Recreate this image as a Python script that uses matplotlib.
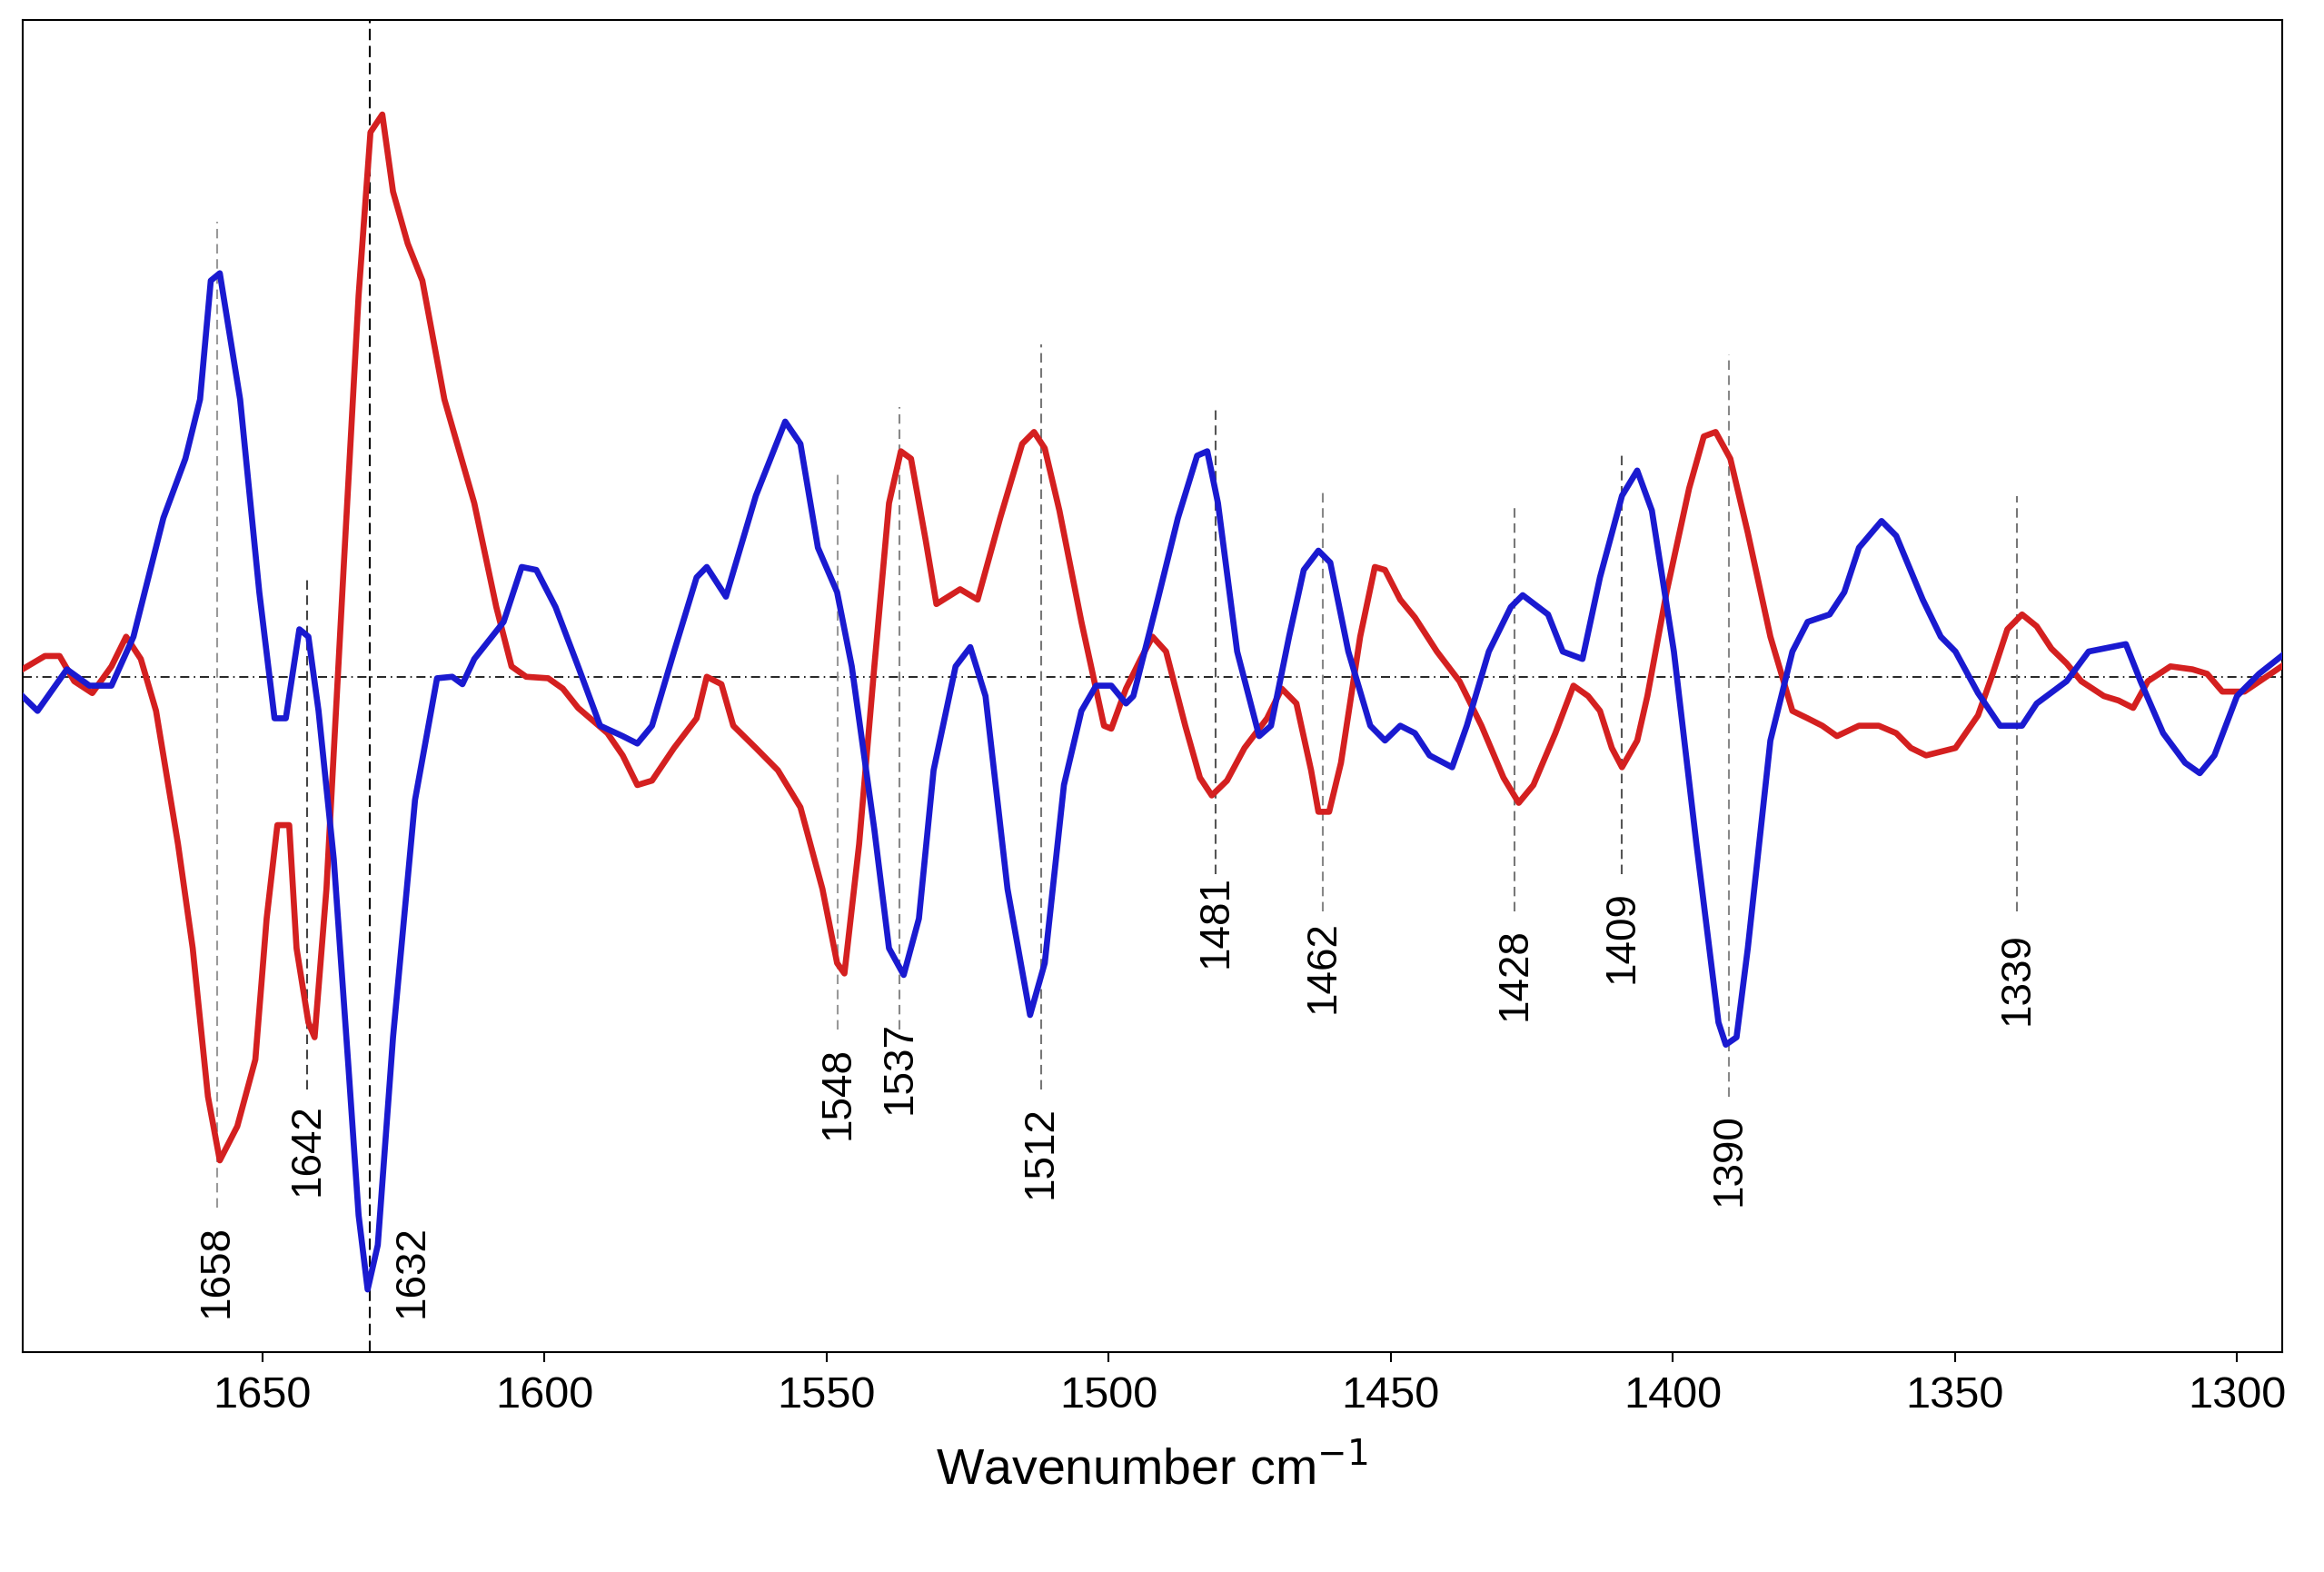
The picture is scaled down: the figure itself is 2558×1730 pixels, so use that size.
import matplotlib
matplotlib.use("Agg")
import matplotlib.pyplot as plt

plt.rcParams["font.family"] = "Liberation Sans"

blue_wn = [1692.5,1689.8,1684.6,1680.6,1676.7,1672.8,1667.5,1663.6,1661.0,1659.1,1657.5,1653.9,1650.5,1647.8,1645.8,1643.4,1641.8,1640.0,1637.3,1634.7,1632.9,1631.3,1629.5,1626.8,1622.9,1619.0,1616.3,1614.5,1612.4,1607.2,1604.0,1601.4,1598.0,1594.0,1590.1,1586.1,1583.5,1580.9,1577.0,1573.0,1571.2,1567.8,1562.5,1557.3,1554.6,1551.5,1548.1,1545.5,1541.5,1538.9,1536.3,1533.6,1531.0,1527.1,1524.5,1521.8,1517.9,1513.9,1511.3,1507.9,1504.8,1502.2,1499.5,1496.9,1495.6,1491.6,1487.7,1484.3,1482.5,1480.6,1477.2,1473.3,1471.2,1468.0,1465.4,1462.8,1460.7,1457.5,1453.6,1451.0,1448.3,1445.7,1443.1,1439.1,1436.5,1432.6,1428.7,1426.6,1422.1,1419.5,1416.0,1412.9,1409.0,1406.3,1403.7,1399.8,1395.8,1391.9,1390.6,1388.7,1386.7,1382.7,1378.8,1376.1,1372.2,1369.6,1367.0,1363.0,1360.4,1355.7,1352.5,1349.9,1345.9,1342.0,1338.1,1335.5,1330.2,1326.3,1322.3,1319.7,1317.1,1313.1,1309.2,1306.6,1304.0,1300.0,1296.1,1292.1]
blue_abs = [-0.13,-0.23,0.05,-0.06,-0.06,0.27,1.07,1.47,1.87,2.67,2.72,1.87,0.57,-0.28,-0.28,0.32,0.27,-0.23,-1.23,-2.63,-3.63,-4.13,-3.83,-2.43,-0.83,-0.01,0.0,-0.05,0.12,0.37,0.74,0.72,0.47,0.07,-0.33,-0.40,-0.45,-0.33,0.17,0.67,0.74,0.54,1.22,1.72,1.57,0.87,0.57,0.07,-1.03,-1.83,-2.01,-1.63,-0.63,0.07,0.20,-0.13,-1.43,-2.28,-1.93,-0.73,-0.23,-0.06,-0.06,-0.18,-0.13,0.47,1.07,1.49,1.52,1.17,0.17,-0.40,-0.33,0.27,0.72,0.85,0.77,0.17,-0.33,-0.43,-0.33,-0.38,-0.53,-0.61,-0.33,0.17,0.47,0.55,0.42,0.17,0.12,0.67,1.22,1.39,1.12,0.17,-1.13,-2.33,-2.48,-2.43,-1.83,-0.43,0.17,0.37,0.42,0.57,0.87,1.05,0.95,0.52,0.27,0.17,-0.11,-0.33,-0.33,-0.18,-0.03,0.17,0.20,0.22,-0.03,-0.38,-0.58,-0.65,-0.53,-0.13,0.02,0.14]

red_wn = [1692.5,1688.5,1685.9,1683.3,1680.1,1676.7,1674.1,1671.5,1668.8,1664.9,1662.3,1659.6,1657.5,1654.4,1651.2,1649.2,1647.3,1645.2,1643.9,1641.8,1640.7,1638.6,1635.5,1632.9,1630.8,1628.7,1626.8,1624.2,1621.6,1617.7,1612.4,1608.5,1605.8,1603.2,1599.3,1596.7,1594.0,1588.8,1586.1,1583.5,1580.9,1577.0,1573.0,1571.2,1568.6,1566.5,1562.5,1558.6,1554.6,1550.7,1548.1,1546.8,1544.2,1541.5,1538.9,1536.8,1535.0,1532.4,1530.5,1528.4,1526.3,1523.2,1519.2,1515.3,1513.2,1511.3,1508.7,1504.8,1500.8,1499.5,1496.9,1494.3,1492.2,1489.8,1486.4,1483.8,1481.7,1479.0,1475.9,1471.9,1469.3,1466.7,1464.1,1462.8,1460.9,1458.8,1455.4,1452.8,1451.0,1448.3,1445.7,1441.8,1437.8,1433.9,1430.0,1427.3,1424.7,1420.8,1417.6,1415.0,1412.9,1410.8,1409.0,1406.3,1404.5,1401.1,1397.1,1394.5,1392.4,1389.8,1386.7,1382.7,1378.8,1376.1,1373.5,1370.9,1367.0,1363.5,1360.4,1357.8,1355.1,1349.9,1345.9,1343.3,1340.7,1338.1,1335.5,1332.9,1330.2,1327.6,1323.6,1321.0,1318.4,1315.8,1311.8,1307.9,1305.3,1302.6,1298.7,1294.8,1292.1]
red_abs = [0.05,0.14,0.14,-0.03,-0.11,0.07,0.27,0.12,-0.23,-1.13,-1.83,-2.83,-3.26,-3.03,-2.58,-1.63,-1.00,-1.00,-1.83,-2.33,-2.43,-1.43,0.77,2.57,3.67,3.79,3.27,2.92,2.67,1.87,1.17,0.47,0.07,0.0,-0.01,-0.08,-0.21,-0.38,-0.53,-0.73,-0.70,-0.48,-0.28,0.0,-0.05,-0.33,-0.48,-0.63,-0.88,-1.43,-1.93,-2.00,-1.13,0.07,1.17,1.52,1.47,0.92,0.49,0.54,0.59,0.52,1.07,1.57,1.65,1.54,1.12,0.37,-0.33,-0.35,-0.08,0.12,0.27,0.17,-0.33,-0.68,-0.80,-0.70,-0.48,-0.28,-0.08,-0.18,-0.63,-0.91,-0.91,-0.58,0.27,0.74,0.72,0.52,0.40,0.17,-0.03,-0.33,-0.68,-0.85,-0.73,-0.38,-0.06,-0.13,-0.23,-0.48,-0.61,-0.43,-0.13,0.57,1.27,1.62,1.65,1.47,0.97,0.27,-0.23,-0.28,-0.33,-0.40,-0.33,-0.33,-0.38,-0.48,-0.53,-0.48,-0.26,0.02,0.32,0.42,0.34,0.19,0.09,-0.03,-0.13,-0.16,-0.21,-0.03,0.07,0.05,0.02,-0.10,-0.10,0.0,0.07]

# peak markers: wavenumber, line top, line bottom, label centre
peak_wn = [1658, 1642, 1548, 1537, 1512, 1481, 1462, 1428, 1409, 1390, 1339]
peak_top = [3.07, 0.67, 1.37, 1.82, 2.24, 1.82, 1.27, 1.17, 1.52, 2.17, 1.22]
peak_bot = [-3.58, -2.78, -2.38, -2.38, -2.78, -1.33, -1.58, -1.58, -1.33, -2.83, -1.58]
peak_lab = [-4.00, -3.18, -2.80, -2.63, -3.20, -1.64, -1.95, -2.00, -1.75, -3.25, -2.03]
peak_col = ["#999999", "#444444", "#999999", "#888888", "#777777", "#555555", "#888888", "#777777", "#555555", "#888888", "#777777"]

fig = plt.figure(figsize=(25.58, 17.31), dpi=100)
ax = fig.add_axes([0.0096, 0.140, 0.9724, 0.847])

ax.axhline(0, color="black", lw=1.2, ls=(0, (6, 3, 1, 3)), zorder=1)
for wn, t, b, lab, c in zip(peak_wn, peak_top, peak_bot, peak_lab, peak_col):
    ax.plot([wn, wn], [b, t], color=c, lw=1.5, ls=(0, (5, 3)), zorder=1)
    ax.text(wn, lab, str(wn), rotation=90, ha="center", va="center", fontsize=33)
# 1632 full-height black dashed line
ax.axvline(1631, color="black", lw=1.5, ls=(0, (6, 3)), zorder=1)
ax.text(1623.5, -4.0, "1632", rotation=90, ha="center", va="center", fontsize=33)

ax.plot(red_wn, red_abs, color="#d42020", lw=4.8, zorder=3)
ax.plot(blue_wn, blue_abs, color="#1a1ad0", lw=4.8, zorder=4)

ax.set_xlim(1692.5, 1292)
ax.set_ylim(-4.55, 4.43)
ax.set_yticks([])
ax.set_xticks([1650, 1600, 1550, 1500, 1450, 1400, 1350, 1300])
ax.tick_params(axis="x", labelsize=35, length=8, width=1.5, pad=10)
for s in ax.spines.values():
    s.set_linewidth(1.5)
ax.set_xlabel("Wavenumber cm$^{-1}$", fontsize=40, labelpad=22)

fig.savefig("out.png", dpi=100)
